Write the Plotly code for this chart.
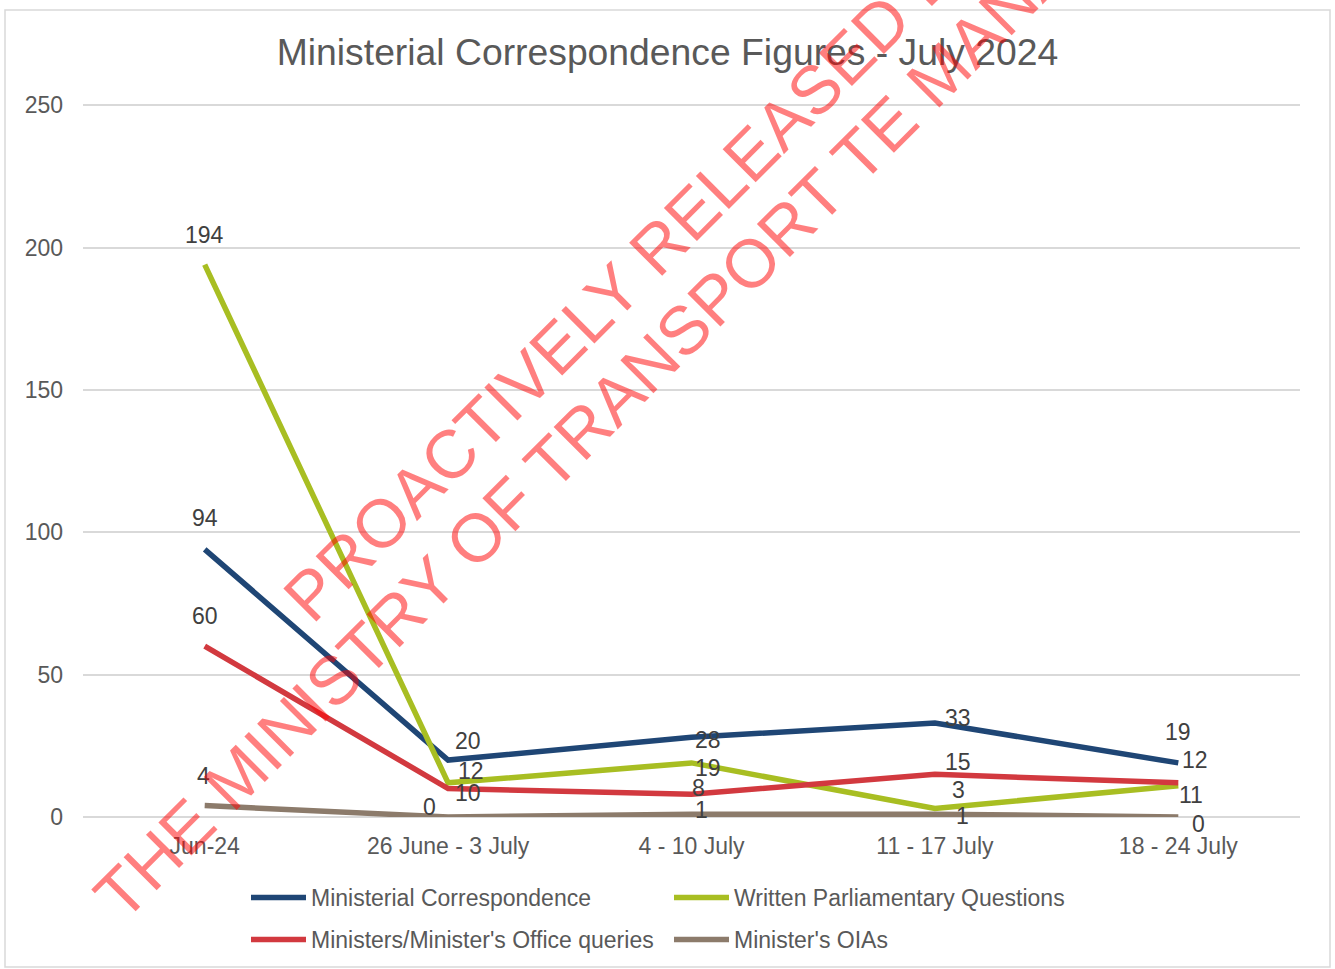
import plotly.graph_objects as go

# ---------------- data ----------------
categories = ["Jun-24", "26 June - 3 July", "4 - 10 July", "11 - 17 July", "18 - 24 July"]
ministerial_correspondence = [94, 20, 28, 33, 19]
written_pqs = [194, 12, 19, 3, 11]
office_queries = [60, 10, 8, 15, 12]
minister_oias = [4, 0, 1, 1, 0]
y_ticks = [0, 50, 100, 150, 200, 250]

series_names = [
    "Ministerial Correspondence",
    "Written Parliamentary Questions",
    "Ministers/Minister's Office queries",
    "Minister's OIAs",
]

# ---------------- styling ----------------
W, H = 1335, 969
L, R, T, B = 83, 35, 104, 152
PW, PH = W - L - R, H - T - B
FONT = "Liberation Sans, Arial, sans-serif"
TXT = "#595959"
LBL = "#404040"
colors = ["#1F4675", "#A8BE22", "#D2393F", "#8C7B6B"]

# label offsets in px (dx, dy up) per series/point
offsets = [
    [(0, 31), (20, 19), (16, -3), (23, 5), (0, 31)],
    [(0, 30), (23, 12), (16, -5), (24, 18), (13, -9)],
    [(0, 30), (20, -4), (7, 6), (23, 12), (17, 23)],
    [(-1, 30), (-19, 10), (10, 4), (28, -2), (20, -7)],
]

all_series = [ministerial_correspondence, written_pqs, office_queries, minister_oias]
legend_ids = ["legend", "legend", "legend2", "legend2"]

fig = go.Figure()
for name, vals, col, lg in zip(series_names, all_series, colors, legend_ids):
    fig.add_trace(go.Scatter(
        x=categories, y=vals, name=name, mode="lines",
        line=dict(color=col, width=5.5), legend=lg,
        hoverinfo="x+y+name",
    ))

annotations = []
for vals, offs in zip(all_series, offsets):
    for c, v, (dx, dy) in zip(categories, vals, offs):
        annotations.append(dict(
            x=c, y=v, xref="x", yref="y", text=str(v), showarrow=False,
            xshift=dx, yshift=dy, xanchor="center", yanchor="middle",
            font=dict(family=FONT, size=23, color=LBL),
        ))


def px_to_paper(px, py):
    return (px - L) / PW, (H - B - py) / PH


# watermark
wm_lines = [
    ("PROACTIVELY RELEASED BY", (635, 269)),
    ("THE MINISTRY OF TRANSPORT TE MANATŪ WAKA", (689, 324)),
]
for text, (cx, cy) in wm_lines:
    xp, yp = px_to_paper(cx, cy)
    annotations.append(dict(
        x=xp, y=yp, xref="paper", yref="paper", text=text, showarrow=False,
        textangle=-45, xanchor="center", yanchor="middle",
        font=dict(family=FONT, size=68, color="rgba(255,0,0,0.5)"),
    ))

bx0, by0 = px_to_paper(5, 10)
bx1, by1 = px_to_paper(1330, 967)

lg1x, lg1y = px_to_paper(246, 876)
lg2x, lg2y = px_to_paper(246, 918)

fig.update_layout(
    width=W, height=H,
    margin=dict(l=L, r=R, t=T, b=B, autoexpand=False),
    paper_bgcolor="white", plot_bgcolor="white",
    font=dict(family=FONT, color=TXT, size=23),
    title=dict(
        text="Ministerial Correspondence Figures - July 2024",
        x=0.5, xref="container", xanchor="center",
        y=1 - 52 / H, yref="container", yanchor="middle",
        font=dict(family=FONT, size=37.3, color=TXT),
    ),
    xaxis=dict(
        type="category", range=[-0.5, 4.5], showgrid=False, zeroline=False,
        showline=False, ticks="", tickfont=dict(size=23, color=TXT),
        ticklabelstandoff=13, fixedrange=True, automargin=False,
    ),
    yaxis=dict(
        range=[0, 250.4], tickvals=y_ticks, showgrid=True, gridcolor="#D9D9D9",
        gridwidth=1.5, zeroline=True, zerolinecolor="#D9D9D9", zerolinewidth=1.5,
        showline=False, ticks="", tickfont=dict(size=23, color=TXT),
        ticklabelstandoff=19, fixedrange=True, automargin=False,
    ),
    legend=dict(
        orientation="h", x=lg1x, y=lg1y, xanchor="left", yanchor="top",
        entrywidth=353, entrywidthmode="pixels", itemwidth=55,
        font=dict(family=FONT, size=23, color=TXT), bgcolor="rgba(0,0,0,0)",
    ),
    legend2=dict(
        orientation="h", x=lg2x, y=lg2y, xanchor="left", yanchor="top",
        entrywidth=353, entrywidthmode="pixels", itemwidth=55,
        font=dict(family=FONT, size=23, color=TXT), bgcolor="rgba(0,0,0,0)",
    ),
    annotations=annotations,
    shapes=[dict(
        type="rect", xref="paper", yref="paper", x0=bx0, y0=by1, x1=bx1, y1=by0,
        line=dict(color="#D9D9D9", width=1.5), fillcolor="rgba(0,0,0,0)", layer="below",
    )],
    showlegend=True,
)

fig.write_html(
    "out.html",
    config={"displayModeBar": False},
    post_script=(
        "var d=document.getElementById('{plot_id}');"
        "d.style.position='absolute';d.style.top='0px';d.style.left='0px';"
        "document.body.style.margin='0px';document.body.style.overflow='hidden';"
        "document.documentElement.style.overflow='hidden';"
    ),
)
